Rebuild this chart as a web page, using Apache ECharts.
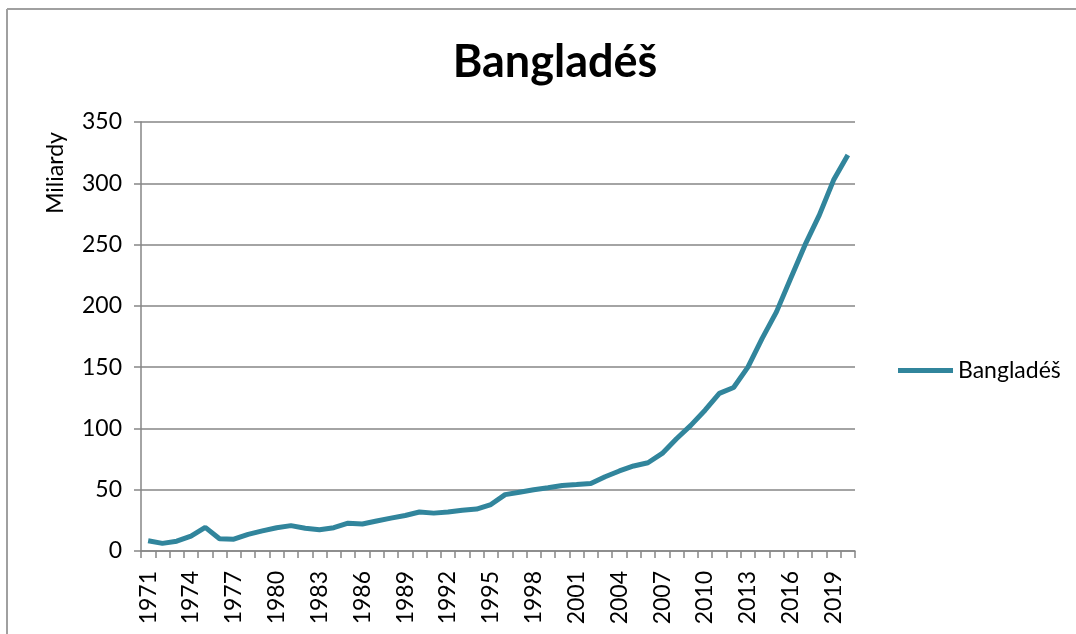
<!DOCTYPE html>
<html>
<head>
<meta charset="utf-8">
<script src="https://cdn.jsdelivr.net/npm/echarts@6/dist/echarts.min.js"></script>
<style>html,body{margin:0;padding:0;background:#fff;}#c{width:1076px;height:634px;}</style>
</head>
<body>
<div id="c"></div>
<script>
const titleText = 'Bangladéš';
const seriesName = 'Bangladéš';
const yAxisName = 'Miliardy';
const years = ['1971','1972','1973','1974','1975','1976','1977','1978','1979','1980',
  '1981','1982','1983','1984','1985','1986','1987','1988','1989','1990',
  '1991','1992','1993','1994','1995','1996','1997','1998','1999','2000',
  '2001','2002','2003','2004','2005','2006','2007','2008','2009','2010',
  '2011','2012','2013','2014','2015','2016','2017','2018','2019','2020'];
const values = [8.4, 6.2, 8.0, 12.2, 19.3, 10.0, 9.6, 13.6, 16.4, 19.0,
  20.7, 18.5, 17.3, 19.0, 22.7, 22.0, 24.5, 26.8, 29.0, 31.8,
  30.9, 31.8, 33.3, 34.2, 37.9, 46.0, 48.0, 50.0, 51.6, 53.5,
  54.2, 55.0, 60.6, 65.3, 69.4, 72.0, 79.6, 91.6, 102.5, 114.9,
  128.6, 133.4, 150.0, 173.5, 195.1, 222.5, 249.7, 274.0, 302.6, 323.0];
const yTicks = { min: 0, max: 350, interval: 50 };

const FONT = 'Lato';
const chart = echarts.init(document.getElementById('c'));
chart.setOption({
  animation: false,
  backgroundColor: '#ffffff',
  title: {
    text: titleText, left: 550, top: 35, textAlign: 'center',
    textStyle: { fontFamily: FONT, fontWeight: 'bold', fontSize: 45, color: '#000' }
  },
  legend: {
    data: [seriesName], left: 893, top: 354, orient: 'vertical',
    icon: 'rect', itemWidth: 55, itemHeight: 5, itemGap: 5,
    textStyle: { fontFamily: FONT, fontSize: 23, color: '#000', padding: [0,0,0,0] }
  },
  grid: { left: 141, right: 221, top: 122, bottom: 83, containLabel: false },
  xAxis: {
    type: 'category', data: years, boundaryGap: true,
    axisLine: { lineStyle: { color: '#868686', width: 1.5 } },
    axisTick: { show: true, length: 7, interval: 0, lineStyle: { color: '#868686', width: 1.5 } },
    axisLabel: { interval: 2, rotate: 90, margin: 20, fontFamily: FONT, fontSize: 23, color: '#000' },
    splitLine: { show: false }
  },
  yAxis: {
    type: 'value', min: yTicks.min, max: yTicks.max, interval: yTicks.interval,
    axisLine: { show: true, lineStyle: { color: '#868686', width: 1.5 } },
    axisTick: { show: true, length: 7, lineStyle: { color: '#868686', width: 1.5 } },
    axisLabel: { margin: 19, fontFamily: FONT, fontSize: 23, color: '#000' },
    splitLine: { show: true, lineStyle: { color: '#868686', width: 1.5 } }
  },
  graphic: [
    { type: 'line', shape: { x1: 7, y1: 9, x2: 1076, y2: 9 }, style: { stroke: '#A0A0A0', lineWidth: 2 } },
    { type: 'line', shape: { x1: 7, y1: 9, x2: 7, y2: 634 }, style: { stroke: '#A0A0A0', lineWidth: 2 } },
    { type: 'text', x: 56, y: 173, rotation: Math.PI / 2,
      style: { text: yAxisName, fontFamily: FONT, fontSize: 23, fill: '#000', textAlign: 'center', textVerticalAlign: 'middle' } }
  ],
  series: [{
    name: seriesName, type: 'line', data: values,
    showSymbol: false, symbol: 'none',
    lineStyle: { color: '#31859C', width: 5 },
    itemStyle: { color: '#31859C' }
  }]
});
</script>
</body>
</html>
